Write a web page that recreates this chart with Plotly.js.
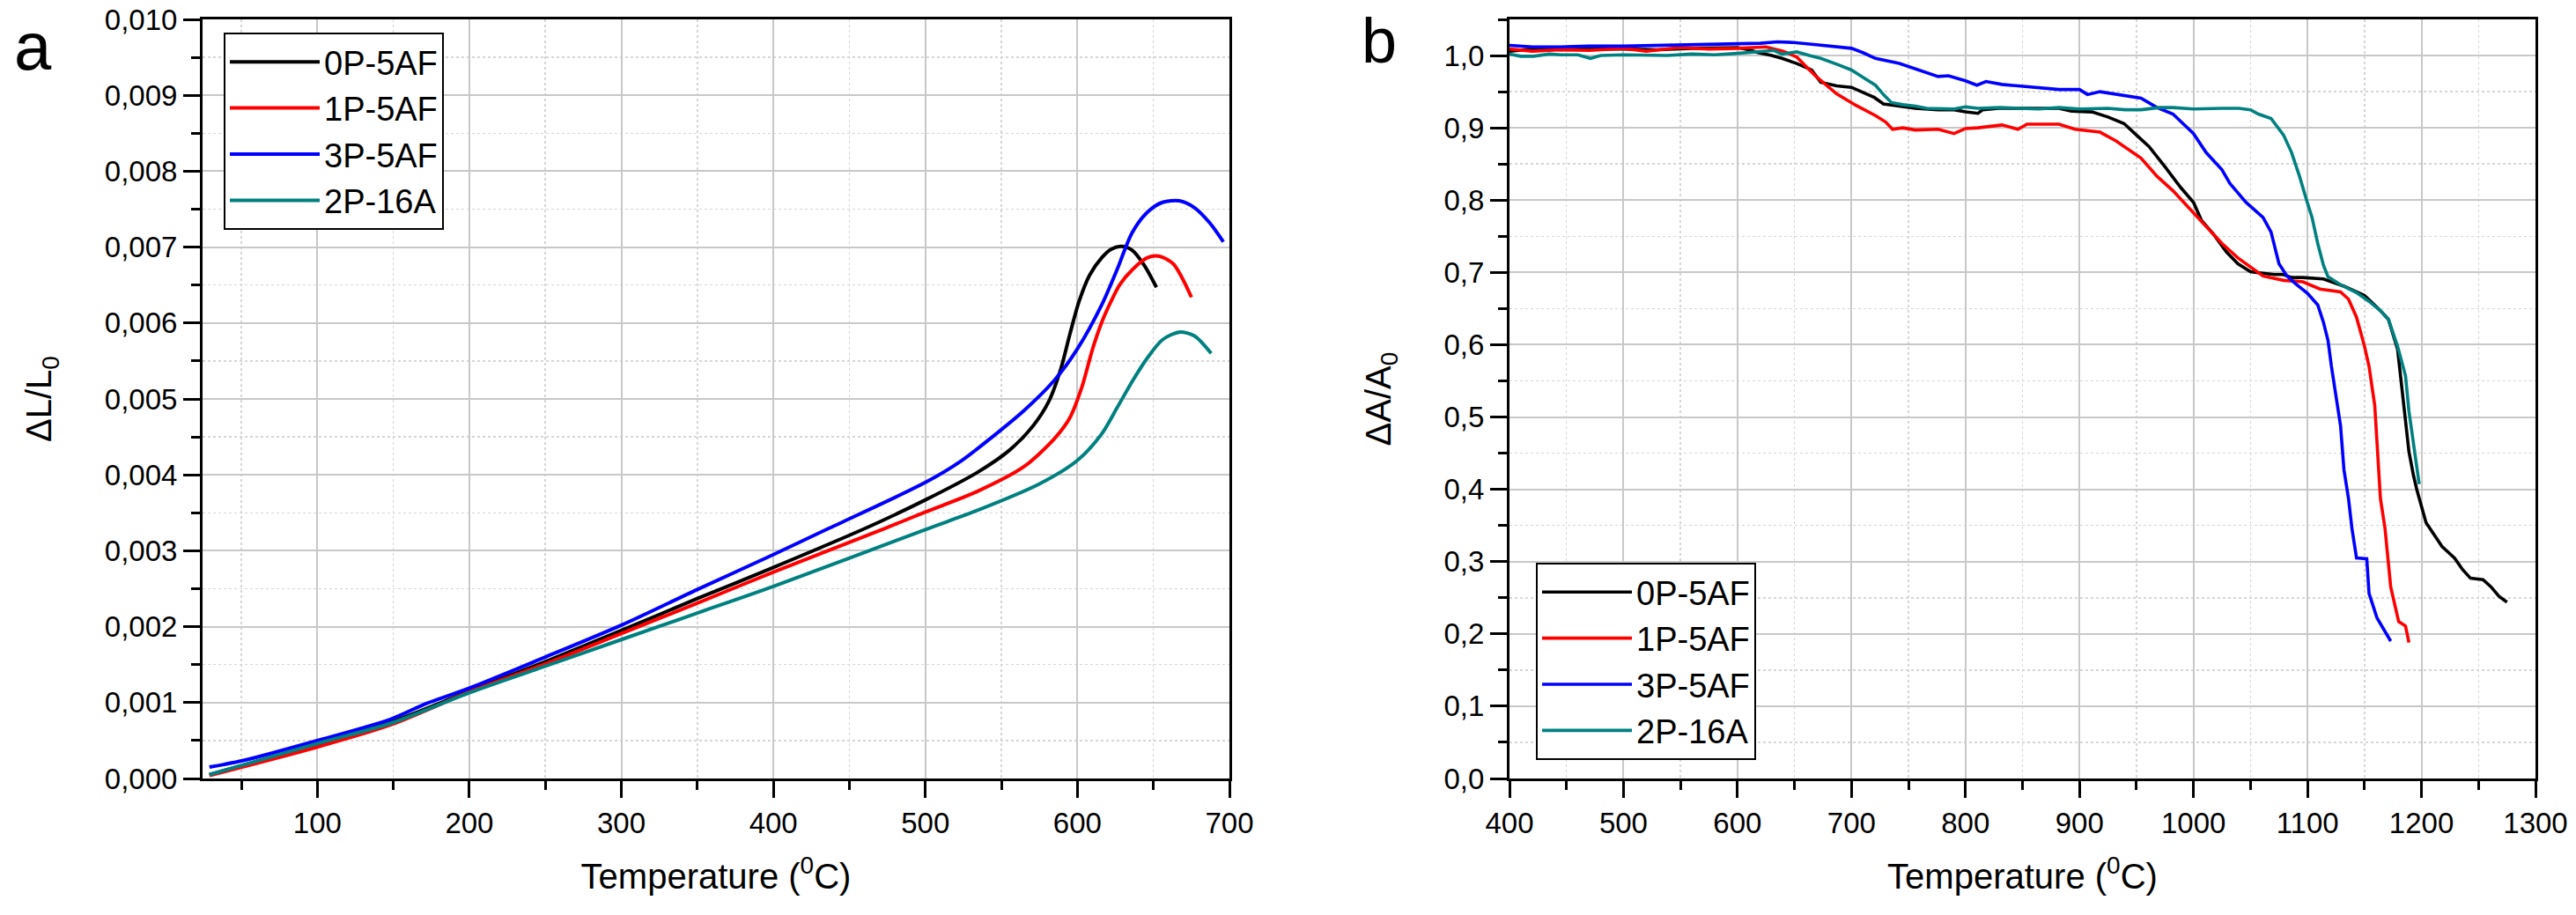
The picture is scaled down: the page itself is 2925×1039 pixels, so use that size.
<!DOCTYPE html>
<html>
<head>
<meta charset="utf-8">
<script src="https://cdn.plot.ly/plotly-3.0.1.min.js"></script>
<style>html,body{margin:0;padding:0;background:#fff;}#chart{width:2925px;height:1039px;}</style>
</head>
<body>
<div id="chart"></div>
<script>
// ---------- Panel a : dilatometry dL/L0 ----------
var seriesNames = ['0P-5AF', '1P-5AF', '3P-5AF', '2P-16A'];
var seriesColors = ['#000000', '#ff0000', '#0000ff', '#008080'];

var a_T_0P = [29, 100, 148, 200, 250, 300, 350, 400, 461, 500, 534, 555, 571, 581, 589, 595, 601, 608, 616, 622, 629, 636, 644, 652];
var a_V_0P = [0.00005, 0.00045, 0.00074, 0.00115, 0.00154, 0.00195, 0.00237, 0.00278, 0.0033, 0.00367, 0.00403, 0.00432, 0.00465, 0.00496, 0.00539, 0.00585, 0.00628, 0.00663, 0.00686, 0.00697, 0.00701, 0.00696, 0.00676, 0.00647];

var a_T_1P = [29, 100, 148, 200, 250, 300, 350, 400, 474, 500, 534, 565, 585, 595, 603, 610, 616, 622, 628, 636, 646, 654, 663, 669, 675];
var a_V_1P = [0.00004, 0.000415, 0.000705, 0.00114, 0.00151, 0.00191, 0.00231, 0.00272, 0.0033, 0.00351, 0.00378, 0.00411, 0.00448, 0.00475, 0.00516, 0.00566, 0.00601, 0.00628, 0.00651, 0.0067, 0.00686, 0.00688, 0.00678, 0.00659, 0.00634];

var a_T_3P = [29, 52, 100, 148, 172, 200, 250, 300, 350, 400, 437, 500, 524, 544, 565, 585, 600, 616, 626, 636, 646, 656, 667, 677, 687, 696];
var a_V_3P = [0.00015, 0.00024, 0.0005, 0.00078, 0.00099, 0.00119, 0.0016, 0.00202, 0.00249, 0.00295, 0.0033, 0.0039, 0.00419, 0.0045, 0.00485, 0.00525, 0.00566, 0.00624, 0.0067, 0.00719, 0.00746, 0.00759, 0.00761, 0.00752, 0.00732, 0.00707];

var a_T_2P = [29, 100, 148, 200, 250, 300, 350, 400, 500, 534, 575, 600, 616, 626, 636, 646, 656, 667, 677, 688];
var a_V_2P = [0.00005, 0.00046, 0.000725, 0.00113, 0.00148, 0.00183, 0.00218, 0.00253, 0.00328, 0.00353, 0.00388, 0.00419, 0.00454, 0.00488, 0.00523, 0.00554, 0.00578, 0.00588, 0.00583, 0.0056];

// ---------- Panel b : dA/A0 ----------
var b_T_0P = [400, 420, 445, 470, 500, 530, 560, 600, 610, 618, 630, 639, 652, 665, 673, 680, 687, 700, 707, 720, 728, 740, 756, 776, 790, 800, 811, 815, 829, 850, 882, 893, 911, 925, 939, 950, 961, 975, 989, 1000, 1007, 1018, 1029, 1039, 1050, 1054, 1071, 1079, 1086, 1096, 1114, 1132, 1150, 1164, 1171, 1179, 1182, 1186, 1189, 1193, 1196, 1204, 1211, 1218, 1229, 1236, 1243, 1254, 1261, 1268, 1275];
var b_V_0P = [1.006, 1.009, 1.008, 1.009, 1.009, 1.008, 1.010, 1.011, 1.008, 1.004, 1.000, 0.996, 0.989, 0.980, 0.963, 0.960, 0.958, 0.956, 0.951, 0.942, 0.933, 0.930, 0.927, 0.925, 0.925, 0.922, 0.920, 0.925, 0.927, 0.927, 0.927, 0.923, 0.922, 0.915, 0.906, 0.890, 0.874, 0.846, 0.817, 0.797, 0.772, 0.752, 0.728, 0.712, 0.701, 0.700, 0.697, 0.697, 0.693, 0.693, 0.691, 0.681, 0.668, 0.647, 0.635, 0.594, 0.549, 0.488, 0.452, 0.419, 0.399, 0.354, 0.338, 0.321, 0.305, 0.289, 0.277, 0.275, 0.265, 0.252, 0.244];

var b_T_1P = [400, 420, 445, 470, 500, 520, 549, 575, 600, 625, 640, 652, 660, 669, 687, 704, 721, 730, 736, 745, 756, 776, 790, 800, 811, 832, 846, 854, 882, 896, 918, 932, 954, 968, 982, 996, 1011, 1025, 1039, 1047, 1061, 1079, 1096, 1111, 1129, 1136, 1143, 1150, 1154, 1159, 1161, 1164, 1168, 1173, 1180, 1186, 1189];
var b_V_1P = [1.009, 1.006, 1.008, 1.007, 1.010, 1.006, 1.011, 1.009, 1.010, 1.012, 1.006, 0.998, 0.985, 0.971, 0.947, 0.931, 0.917, 0.908, 0.898, 0.900, 0.897, 0.898, 0.892, 0.899, 0.900, 0.904, 0.898, 0.905, 0.905, 0.898, 0.894, 0.882, 0.858, 0.833, 0.813, 0.789, 0.764, 0.740, 0.720, 0.711, 0.695, 0.689, 0.687, 0.677, 0.673, 0.663, 0.638, 0.598, 0.570, 0.516, 0.468, 0.387, 0.346, 0.265, 0.217, 0.211, 0.188];

var b_T_3P = [400, 420, 445, 470, 500, 525, 549, 575, 600, 620, 635, 649, 669, 685, 700, 710, 721, 742, 756, 766, 776, 785, 800, 810, 818, 832, 846, 864, 882, 900, 907, 918, 936, 954, 968, 982, 1000, 1011, 1025, 1032, 1046, 1061, 1068, 1075, 1082, 1089, 1100, 1109, 1114, 1118, 1121, 1125, 1129, 1132, 1136, 1139, 1143, 1152, 1154, 1161, 1173];
var b_V_3P = [1.014, 1.012, 1.012, 1.013, 1.013, 1.014, 1.015, 1.015, 1.017, 1.017, 1.019, 1.018, 1.015, 1.012, 1.010, 1.004, 0.996, 0.989, 0.982, 0.976, 0.971, 0.972, 0.965, 0.959, 0.964, 0.960, 0.958, 0.956, 0.953, 0.953, 0.946, 0.950, 0.946, 0.941, 0.928, 0.919, 0.892, 0.866, 0.842, 0.823, 0.797, 0.776, 0.756, 0.712, 0.695, 0.685, 0.671, 0.655, 0.631, 0.606, 0.570, 0.529, 0.488, 0.427, 0.387, 0.346, 0.305, 0.304, 0.256, 0.222, 0.190];

var b_T_2P = [400, 410, 421, 435, 445, 460, 471, 480, 500, 520, 538, 560, 580, 600, 618, 632, 639, 652, 663, 673, 687, 700, 710, 721, 728, 735, 745, 756, 766, 776, 790, 800, 811, 830, 846, 864, 882, 900, 925, 940, 954, 970, 982, 1000, 1025, 1040, 1050, 1057, 1068, 1079, 1086, 1093, 1099, 1104, 1109, 1114, 1118, 1129, 1143, 1154, 1164, 1171, 1179, 1186, 1189, 1193, 1198];
var b_V_2P = [1.002, 0.999, 0.999, 1.002, 1.001, 1.001, 0.996, 1.000, 1.001, 1.000, 1.000, 1.002, 1.001, 1.003, 1.005, 1.007, 1.002, 1.005, 1.000, 0.996, 0.988, 0.980, 0.970, 0.959, 0.946, 0.935, 0.932, 0.930, 0.927, 0.927, 0.926, 0.929, 0.927, 0.928, 0.927, 0.926, 0.928, 0.926, 0.927, 0.925, 0.925, 0.928, 0.928, 0.926, 0.927, 0.927, 0.925, 0.919, 0.913, 0.890, 0.866, 0.833, 0.801, 0.776, 0.740, 0.710, 0.694, 0.683, 0.672, 0.660, 0.647, 0.635, 0.598, 0.557, 0.508, 0.460, 0.407];

var aX = [a_T_0P, a_T_1P, a_T_3P, a_T_2P];
var aY = [a_V_0P, a_V_1P, a_V_3P, a_V_2P];
var bX = [b_T_0P, b_T_1P, b_T_3P, b_T_2P];
var bY = [b_V_0P, b_V_1P, b_V_3P, b_V_2P];

var traces = [];
for (var i = 0; i < 4; i++) {
  traces.push({
    x: aX[i], y: aY[i], name: seriesNames[i], type: 'scatter', mode: 'lines',
    line: {color: seriesColors[i], width: 4, shape: 'spline', smoothing: 0.8},
    xaxis: 'x', yaxis: 'y', legend: 'legend'
  });
}
for (var j = 0; j < 4; j++) {
  traces.push({
    x: bX[j], y: bY[j], name: seriesNames[j], type: 'scatter', mode: 'lines',
    line: {color: seriesColors[j], width: 3.6},
    xaxis: 'x2', yaxis: 'y2', legend: 'legend2'
  });
}

var FONT = 'Liberation Sans, Arial, sans-serif';
var W = 2925, H = 1039;
var yDom = [1 - 884 / H, 1 - 22 / H];

function axisBase(extra) {
  var base = {
    showline: true, linecolor: '#000', linewidth: 3, mirror: true,
    ticks: 'outside', ticklen: 19, tickwidth: 3, tickcolor: '#000',
    showgrid: true, gridcolor: '#c8c8c8', gridwidth: 2,
    zeroline: false,
    tickfont: {family: FONT, size: 33, color: '#000'},
    fixedrange: true
  };
  for (var k in extra) base[k] = extra[k];
  return base;
}

var layout = {
  width: W, height: H,
  margin: {l: 0, r: 0, t: 0, b: 0},
  paper_bgcolor: '#fff', plot_bgcolor: '#fff',
  separators: ',.',
  font: {family: FONT, color: '#000'},
  xaxis: axisBase({
    domain: [230 / W, 1396 / W], anchor: 'y',
    range: [24.5, 700], tick0: 0, dtick: 100, tickformat: 'd',
    minor: {tick0: 0, dtick: 50, ticks: 'outside', ticklen: 10, tickwidth: 3, tickcolor: '#000', showgrid: true, gridcolor: '#d6d6d6', gridwidth: 1.5, griddash: 'dot'},
    title: {text: 'Temperature (<sup>0</sup>C)', font: {family: FONT, size: 40, color: '#000'}, standoff: 30}
  }),
  yaxis: axisBase({
    domain: yDom, anchor: 'x',
    range: [0, 0.010], tick0: 0, dtick: 0.001, tickformat: '.3f',
    minor: {tick0: 0, dtick: 0.0005, ticks: 'outside', ticklen: 10, tickwidth: 3, tickcolor: '#000', showgrid: true, gridcolor: '#d6d6d6', gridwidth: 1.5, griddash: 'dot'},
    title: {text: 'ΔL/L<sub>0</sub>', font: {family: FONT, size: 40, color: '#000'}, standoff: 48}
  }),
  xaxis2: axisBase({
    domain: [1714 / W, 2879 / W], anchor: 'y2',
    range: [400, 1300], tick0: 0, dtick: 100, tickformat: 'd',
    minor: {tick0: 0, dtick: 50, ticks: 'outside', ticklen: 10, tickwidth: 3, tickcolor: '#000', showgrid: true, gridcolor: '#d6d6d6', gridwidth: 1.5, griddash: 'dot'},
    title: {text: 'Temperature (<sup>0</sup>C)', font: {family: FONT, size: 40, color: '#000'}, standoff: 30}
  }),
  yaxis2: axisBase({
    domain: yDom, anchor: 'x2',
    range: [0, 1.05], tick0: 0, dtick: 0.1, tickformat: '.1f',
    minor: {tick0: 0, dtick: 0.05, ticks: 'outside', ticklen: 10, tickwidth: 3, tickcolor: '#000', showgrid: true, gridcolor: '#d6d6d6', gridwidth: 1.5, griddash: 'dot'},
    title: {text: 'ΔA/A<sub>0</sub>', font: {family: FONT, size: 40, color: '#000'}, standoff: 48}
  }),
  legend: {
    x: 254 / W, y: 1 - 37 / H, xanchor: 'left', yanchor: 'top',
    bgcolor: '#fff', bordercolor: '#000', borderwidth: 2,
    font: {family: FONT, size: 38, color: '#000'}, itemwidth: 102, tracegroupgap: 0
  },
  legend2: {
    x: 1744 / W, y: 1 - 639 / H, xanchor: 'left', yanchor: 'top',
    bgcolor: '#fff', bordercolor: '#000', borderwidth: 2,
    font: {family: FONT, size: 38, color: '#000'}, itemwidth: 102, tracegroupgap: 0
  },
  showlegend: true,
  annotations: [
    {text: 'a', xref: 'paper', yref: 'paper', x: 14 / W, y: 1 - 8 / H, xanchor: 'left', yanchor: 'top', showarrow: false, font: {family: FONT, size: 76, color: '#000'}},
    {text: 'b', xref: 'paper', yref: 'paper', x: 1544 / W, y: 1 - 4 / H, xanchor: 'left', yanchor: 'top', showarrow: false, font: {family: FONT, size: 72, color: '#000'}}
  ]
};

Plotly.newPlot('chart', traces, layout, {staticPlot: true, displayModeBar: false});
</script>
</body>
</html>
